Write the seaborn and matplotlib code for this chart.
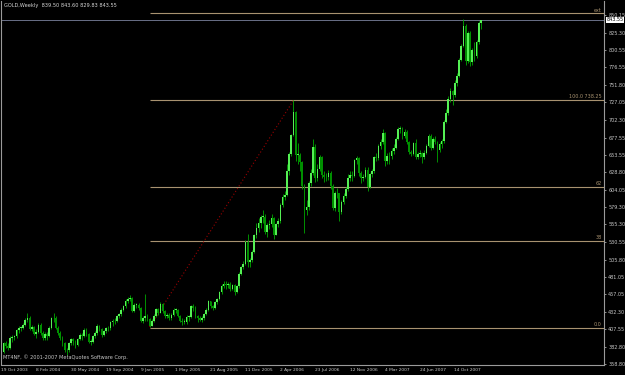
import matplotlib
matplotlib.use("Agg")
import matplotlib.pyplot as plt
import matplotlib.transforms as mtransforms
import numpy as np
import seaborn as sns

# ---------------- data (weekly GOLD candles) ----------------
first_open = 376.0
close_2003 = [388, 384, 381, 396, 397, 398, 406, 410, 410, 414]
close_2004 = [421, 424, 408, 411, 401, 404, 414, 402, 396, 401, 398, 410, 423, 424, 410, 403,
              396, 388, 378, 378, 388, 394, 391, 385, 394, 400, 398, 407, 401, 390, 390, 398,
              402, 413, 408, 400, 405, 409, 409, 418, 419, 420, 426, 429, 435, 440, 448, 451,
              452, 434, 442, 442, 438]
close_2005 = [420, 423, 427, 422, 413, 420, 427, 436, 431, 443, 433, 426, 428, 423, 428, 435,
              435, 427, 420, 418, 418, 425, 425, 440, 438, 426, 423, 421, 424, 429, 435, 447,
              440, 438, 446, 450, 460, 468, 472, 470, 471, 465, 470, 460, 468, 486, 495, 500,
              530, 502, 505, 517]
close_2006 = [540, 550, 557, 566, 566, 545, 554, 556, 565, 541, 556, 560, 583, 594, 597, 630,
              654, 681, 714, 653, 653, 643, 610, 575, 580, 613, 628, 665, 620, 634, 650, 625,
              622, 622, 628, 610, 578, 599, 599, 573, 587, 596, 605, 620, 625, 624, 646, 649,
              628, 621, 622, 632]
close_2007 = [608, 626, 630, 650, 649, 666, 672, 684, 645, 651, 652, 659, 663, 676, 690, 690,
              680, 686, 671, 657, 655, 670, 650, 655, 656, 650, 656, 666, 680, 663, 675, 671,
              660, 669, 673, 700, 712, 732, 743, 737, 754, 765, 787, 807, 834, 786, 825, 784,
              801, 793, 812, 839.5]
close_2008 = [843.55]

high_2003 = [390, 391, 388, 398, 399, 400, 408, 412, 413, 416]
high_2004 = [423, 430, 426, 414, 413, 408, 417, 416, 405, 404, 404, 412, 425, 430, 426, 413,
             405, 398, 390, 382, 390, 396, 396, 393, 396, 402, 403, 410, 409, 403, 394, 400,
             405, 415, 414, 410, 407, 411, 413, 420, 422, 423, 428, 431, 437, 442, 450, 453,
             456, 453, 444, 445, 444]
high_2005 = [439, 427, 458, 429, 424, 422, 429, 438, 438, 446, 445, 435, 431, 430, 431, 437,
             438, 436, 428, 423, 422, 428, 428, 442, 443, 440, 428, 426, 427, 431, 437, 449,
             448, 442, 448, 452, 462, 471, 476, 475, 474, 474, 472, 471, 470, 488, 497, 504,
             533, 542, 508, 520]
high_2006 = [542, 557, 564, 568, 576, 570, 557, 561, 570, 566, 558, 565, 586, 598, 602, 640,
             658, 683, 730, 715, 670, 656, 645, 612, 590, 616, 634, 676, 668, 640, 653, 652,
             630, 628, 632, 630, 612, 602, 606, 600, 590, 600, 608, 627, 630, 630, 648, 652,
             650, 630, 627, 636]
high_2007 = [636, 628, 634, 652, 656, 668, 675, 690, 686, 656, 658, 663, 669, 678, 693, 694,
             692, 689, 688, 673, 660, 672, 675, 658, 660, 658, 660, 668, 683, 682, 678, 680,
             673, 671, 675, 702, 718, 736, 747, 745, 758, 768, 790, 810, 845, 838, 828, 827,
             804, 812, 815, 842]
high_2008 = [843.60]

low_2003 = [374, 381, 378, 380, 390, 392, 396, 402, 405, 408]
low_2004 = [412, 418, 406, 405, 399, 396, 403, 400, 392, 393, 392, 397, 408, 418, 408, 399,
            392, 384, 375, 371, 376, 386, 385, 382, 384, 392, 392, 397, 398, 388, 386, 389,
            396, 400, 405, 397, 398, 402, 405, 407, 413, 415, 418, 423, 427, 433, 438, 444,
            447, 432, 432, 438, 435]
low_2005 = [418, 417, 420, 419, 411, 412, 418, 425, 428, 430, 431, 424, 424, 421, 421, 426,
            430, 425, 418, 414, 415, 415, 420, 424, 434, 424, 418, 419, 418, 421, 428, 434,
            438, 435, 436, 443, 449, 458, 466, 464, 466, 462, 463, 456, 459, 466, 484, 493,
            498, 495, 496, 503]
low_2006 = [515, 536, 544, 550, 558, 542, 538, 549, 552, 535, 540, 551, 558, 580, 590, 595,
            625, 652, 680, 645, 640, 630, 605, 543, 568, 575, 610, 625, 615, 617, 630, 620,
            615, 617, 618, 605, 575, 574, 592, 560, 570, 584, 592, 603, 617, 616, 622, 640,
            624, 614, 616, 620]
low_2007 = [602, 606, 622, 628, 644, 646, 662, 668, 638, 641, 640, 648, 655, 662, 674, 684,
            676, 677, 668, 654, 651, 653, 647, 647, 650, 642, 648, 654, 664, 660, 661, 668,
            643, 657, 663, 670, 698, 710, 728, 724, 735, 750, 763, 785, 805, 780, 783, 778,
            780, 785, 790, 810]
low_2008 = [829.83]

x_tick_labels = ["19 Oct 2003", "8 Feb 2004", "30 May 2004", "19 Sep 2004", "9 Jan 2005",
                 "1 May 2005", "21 Aug 2005", "11 Dec 2005", "2 Apr 2006", "23 Jul 2006",
                 "12 Nov 2006", "4 Mar 2007", "24 Jun 2007", "14 Oct 2007"]
bars_per_label = 16
y_tick_values = [850.15, 825.30, 800.55, 776.55, 751.80, 727.05, 702.30, 677.55, 653.55,
                 628.80, 604.05, 579.30, 555.30, 530.55, 505.80, 481.05, 457.05, 432.30,
                 407.55, 382.80, 358.80]

fib_start_bar = 67
fib_low, fib_high = 409.5, 730.5
fib_levels = [0.0, 0.382, 0.618, 1.0, 1.38]
fib_labels = ["0.0", "38", "62", "100.0 738.25", "ext"]
trend_bars = [67, 133]
trend_prices = [411.0, 730.0]

last_price = 843.55
title_text = "GOLD,Weekly  839.50 843.60 829.83 843.55"
copyright_text = "MT4NF, \u00a9 2001-2007 MetaQuotes Software Corp."

closes = np.array(close_2003 + close_2004 + close_2005 + close_2006 + close_2007 + close_2008, float)
highs = np.array(high_2003 + high_2004 + high_2005 + high_2006 + high_2007 + high_2008, float)
lows = np.array(low_2003 + low_2004 + low_2005 + low_2006 + low_2007 + low_2008, float)
opens = np.r_[first_open, closes[:-1]]
highs = np.maximum(highs, np.maximum(opens, closes))
lows = np.minimum(lows, np.minimum(opens, closes))

# ---------------- drawing ----------------
sns.set_style("dark")
plt.rcParams["font.family"] = ["DejaVu Sans"]

W, H = 625, 375
fig = plt.figure(figsize=(W / 100, H / 100), dpi=100, facecolor="black")
ax = fig.add_axes([1.5 / W, 10 / H, 602.5 / W, 364 / H])
ax.set_facecolor("black")

px_per_bar = 2.18
x0_px = 3.5
xmin = (1.5 - x0_px) / px_per_bar
xmax = (604 - x0_px) / px_per_bar
ax.set_xlim(xmin, xmax)
ax.set_ylim(357.4, 869.9)

idx = np.arange(len(closes))
up = closes >= opens
ax.vlines(idx, lows, highs, color="#00a800", lw=0.6, zorder=3)
body_low = np.minimum(opens, closes)
body_h = np.maximum(np.abs(closes - opens), 0.8)
ax.bar(idx[up], body_h[up], bottom=body_low[up], width=0.75, color="#55f055", linewidth=0, zorder=4)
ax.bar(idx[~up], body_h[~up], bottom=body_low[~up], width=0.75, color="#009000", linewidth=0, zorder=4)

fib_color = "#a89270"
fib_prices = [fib_low + lv * (fib_high - fib_low) for lv in fib_levels]
ax.hlines(fib_prices, fib_start_bar, xmax, color=fib_color, lw=0.8, zorder=2)
for p, lab in zip(fib_prices, fib_labels):
    ax.text(xmax - 1.2, p + 1.2, lab, ha="right", va="bottom", fontsize=3.5, color=fib_color)

sns.lineplot(x=trend_bars, y=trend_prices, ax=ax, color="#9a0000", lw=0.8,
             linestyle=(0, (1, 2)), zorder=2)

ax.axhline(last_price, color="#6a7088", lw=0.7, zorder=1)

for side in ["left", "bottom", "right"]:
    ax.spines[side].set_color("#9a9a9a")
    ax.spines[side].set_linewidth(0.8)
    ax.spines[side].set_visible(True)
ax.spines["top"].set_visible(False)

ax.yaxis.tick_right()
ax.set_yticks(y_tick_values)
ax.set_yticklabels([f"{v:.2f}" for v in y_tick_values])
ax.tick_params(axis="y", colors="#c8c8c8", labelsize=3.5, length=1.5, width=0.5, pad=1.5)

tick_pos = idx[::bars_per_label][:len(x_tick_labels)]
ax.set_xticks(tick_pos)
ax.set_xticklabels(x_tick_labels, ha="left")
ax.tick_params(axis="x", colors="#c8c8c8", labelsize=3.15, length=1.5, width=0.5, pad=1.0)
shift = mtransforms.ScaledTranslation(-2.5 / 100, 0, fig.dpi_scale_trans)
for lab in ax.get_xticklabels():
    lab.set_transform(lab.get_transform() + shift)

ax.set_xlabel("")
ax.set_ylabel("")
ax.grid(False)

blend = mtransforms.blended_transform_factory(ax.transAxes, ax.transData)
ax.text(1.0, last_price, "843.55", transform=blend + mtransforms.ScaledTranslation(2.2 / 100, 0, fig.dpi_scale_trans),
        ha="left", va="center", fontsize=3.5, color="black",
        bbox=dict(facecolor="white", edgecolor="none", pad=0.5), zorder=6)

fig.text(4 / W, 1 - 6 / H, title_text, color="#d8d8d8", fontsize=3.6, va="center", ha="left")
fig.text(3 / W, 1 - 357 / H, copyright_text, color="#c8c8c8", fontsize=3.6, va="center", ha="left")

fig.savefig("out.png", dpi=100, facecolor="black")
